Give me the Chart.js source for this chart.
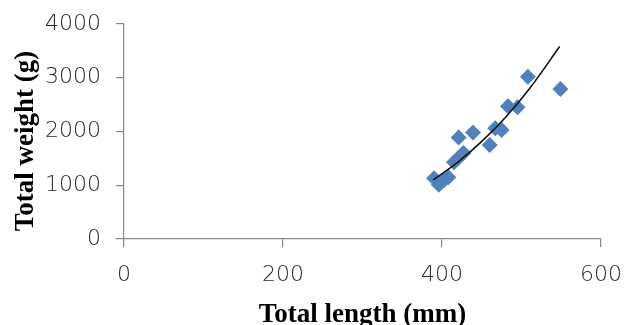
<!DOCTYPE html>
<html>
<head>
<meta charset="utf-8">
<script src="https://cdn.jsdelivr.net/npm/chart.js@4/dist/chart.umd.min.js"></script>
<style>
  html, body { margin: 0; padding: 0; background: #ffffff; }
  #wrap { width: 627px; height: 325px; }
</style>
</head>
<body>
<div id="wrap"><canvas id="c" width="627" height="325"></canvas></div>
<script>
// Total length (mm) of each fish
const lengths = [390, 396, 402, 408, 415, 420, 427, 421, 439, 460, 467, 475, 483, 495, 508, 549];
// Total weight (g) of each fish
const weights = [1130, 1010, 1090, 1150, 1430, 1500, 1600, 1890, 1980, 1750, 2060, 2030, 2470, 2450, 3020, 2790];

// Length-weight trend curve, sampled along its span
const trendLengths = [389, 420, 450, 480, 510, 548];
const trendWeights = [1100, 1430, 1815, 2265, 2795, 3580];

const xTicks = [0, 200, 400, 600];
const yTicks = [0, 1000, 2000, 3000, 4000];

const xTitle = 'Total length (mm)';
const yTitle = 'Total weight (g)';

const points = lengths.map((l, i) => ({ x: l, y: weights[i] }));
const trend = trendLengths.map((l, i) => ({ x: l, y: trendWeights[i] }));

const axisGrey = '#868686';
const tickFont = { family: 'DejaVu Sans', size: 22, weight: 200 };
const titleFont = 'bold 27px "Liberation Serif"';

// Axis titles placed around the plot area
const axisTitles = {
  id: 'axisTitles',
  afterDraw(chart) {
    const ctx = chart.ctx;
    const area = chart.chartArea;
    ctx.save();
    ctx.fillStyle = '#000000';
    ctx.font = titleFont;
    ctx.textAlign = 'center';
    ctx.textBaseline = 'alphabetic';
    ctx.fillText(xTitle, (area.left + area.right) / 2, 322);
    ctx.translate(33, 141);
    ctx.rotate(-Math.PI / 2);
    ctx.fillText(yTitle, 0, 0);
    ctx.restore();
  }
};

// Keep the plot area exactly where the layout padding puts it
function noLabelPadding(scale) {
  scale.paddingLeft = 0;
  scale.paddingRight = 0;
  scale.paddingTop = 0;
  scale.paddingBottom = 0;
}

new Chart(document.getElementById('c'), {
  type: 'scatter',
  data: {
    datasets: [
      {
        label: 'Trend',
        type: 'line',
        data: trend,
        order: 0,
        borderColor: '#111111',
        borderWidth: 1.6,
        pointRadius: 0,
        fill: false,
        cubicInterpolationMode: 'monotone'
      },
      {
        label: 'Fish',
        data: points,
        order: 1,
        pointStyle: 'rectRot',
        pointRadius: 8,
        pointHoverRadius: 8,
        backgroundColor: '#4F81BD',
        borderColor: '#4F81BD',
        borderWidth: 0
      }
    ]
  },
  options: {
    responsive: false,
    animation: false,
    devicePixelRatio: 1,
    layout: { padding: { left: 0, right: 26, top: 24, bottom: 0 } },
    plugins: { legend: { display: false }, tooltip: { enabled: false } },
    scales: {
      x: {
        type: 'linear',
        min: xTicks[0],
        max: xTicks[xTicks.length - 1],
        afterBuildTicks(scale) { scale.ticks = xTicks.map(v => ({ value: v })); },
        afterFit(scale) { scale.height = 86; noLabelPadding(scale); },
        ticks: { font: tickFont, color: '#2a2a2a', padding: 15, maxRotation: 0, callback: v => String(v) },
        grid: { drawOnChartArea: false, drawTicks: true, tickLength: 8, color: axisGrey, lineWidth: 1.2 },
        border: { display: true, color: axisGrey, width: 1.2 }
      },
      y: {
        type: 'linear',
        min: yTicks[0],
        max: yTicks[yTicks.length - 1],
        afterBuildTicks(scale) { scale.ticks = yTicks.map(v => ({ value: v })); },
        afterFit(scale) { scale.width = 124; noLabelPadding(scale); },
        ticks: { font: tickFont, color: '#2a2a2a', padding: 15, callback: v => String(v) },
        grid: { drawOnChartArea: false, drawTicks: true, tickLength: 8, color: axisGrey, lineWidth: 1.2 },
        border: { display: true, color: axisGrey, width: 1.2 }
      }
    }
  },
  plugins: [axisTitles]
});
</script>
</body>
</html>
